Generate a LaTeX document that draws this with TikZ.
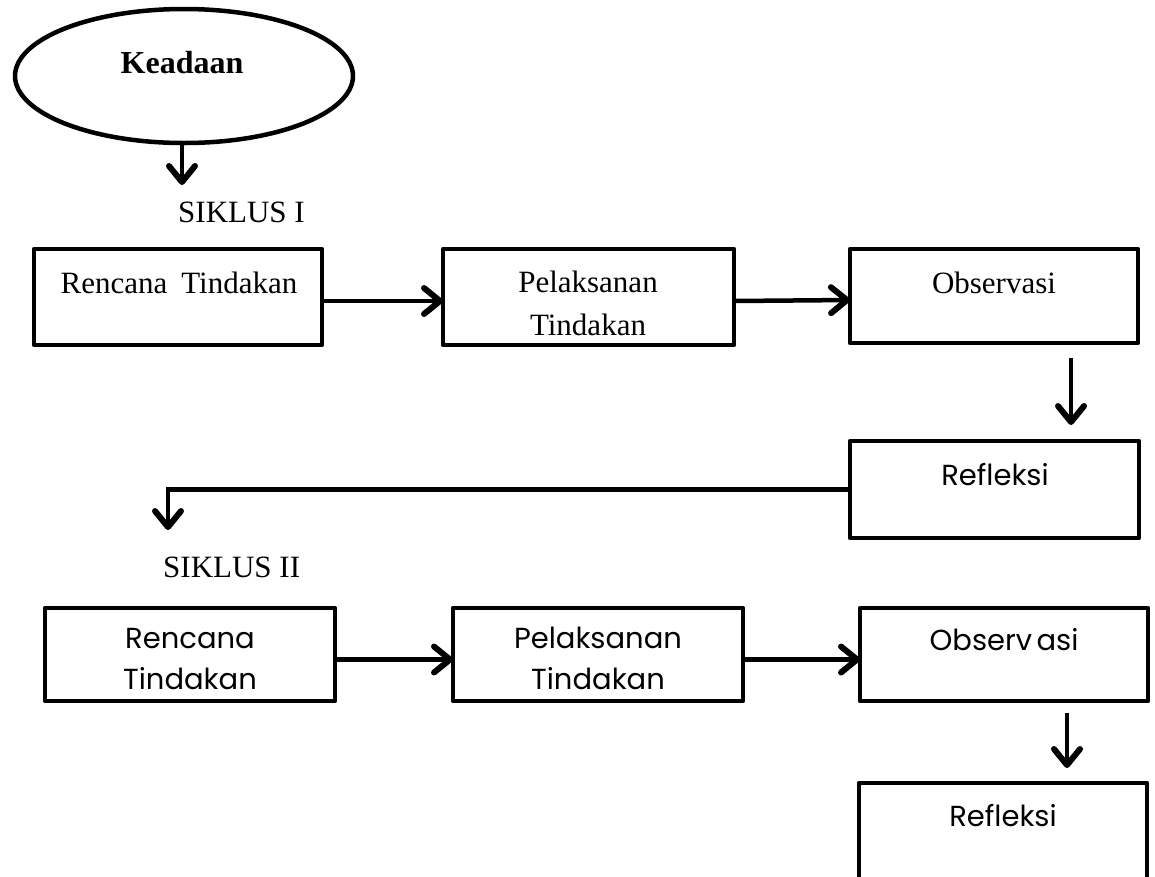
\documentclass[tikz,border=0pt]{standalone}
\usepackage{fontspec}
\setmainfont{Liberation Serif}
\newfontfamily\gothic{Poppins}
\usetikzlibrary{shapes.geometric,arrows.meta,calc}
\tikzset{
  box/.style={draw, line width=4.5pt, line join=round, inner sep=0pt, outer sep=0pt, anchor=north west},
  conn/.style={line width=4.5pt, -{Straight Barb[length=16pt,width=26pt,line width=6pt,round]}},
  serif/.style={font=\fontsize{31}{37}\selectfont, inner sep=0pt, anchor=base},
  sans/.style={font=\gothic\fontsize{29}{35}\selectfont, inner sep=0pt, anchor=base},
}
\begin{document}
\begin{tikzpicture}[x=1pt,y=-1pt]
\useasboundingbox (0,0) rectangle (1155,876);
\fill[white] (0,0) rectangle (1155,876);
\clip (0,0) rectangle (1155,876);

% start ellipse
\node[ellipse, draw, line width=4.5pt, minimum width=338pt, minimum height=134pt, inner sep=0pt] (k) at (184,76) {};
\node[serif, font=\fontsize{32}{38}\selectfont\bfseries] (kt) at (182,73) {Keadaan};
\coordinate (s1) at (182,185);
\draw[conn] (k.south -| s1) -- (s1);
\node[serif, anchor=base west] (c1) at (178,222) {SIKLUS I};

% cycle I
\node[box, minimum width=288pt, minimum height=96pt] (r1) at (34,249) {};
\node[box, minimum width=291pt, minimum height=96pt] (p1) at (443,249) {};
\node[box, minimum width=288pt, minimum height=94pt] (o1) at (850,249) {};
\node[box, minimum width=289pt, minimum height=97pt] (f1) at (850,441) {};

\node[serif] (r1t) at (179,293) {Rencana\hspace{0.45em}Tindakan};
\node[serif] (p1t) at (588,292) {Pelaksanan};
\node[serif] (p1u) at (588,335) {Tindakan};
\node[serif] (o1t) at (994,293) {Observasi};
\node[sans] (f1t) at (995,485) {Refleksi};

\draw[conn] ([yshift=-4pt]r1.east) -- ([yshift=-4pt]p1.west);
\draw[conn] ([yshift=-4pt]p1.east) -- ([yshift=-4pt]o1.west);
\coordinate (d1) at (1071,0);
\draw[conn, shorten <=15pt, shorten >=16pt] (o1.south -| d1) -- (f1.north -| d1);

\coordinate (s2) at (168,530);
\draw[conn] (f1.west) -| (s2);
\node[serif, anchor=base west] (c2) at (163,577) {SIKLUS II};

% cycle II
\node[box, minimum width=290pt, minimum height=93pt] (r2) at (45,608) {};
\node[box, minimum width=290pt, minimum height=93pt] (p2) at (453,608) {};
\node[box, minimum width=288pt, minimum height=93pt] (o2) at (860,608) {};
\node[box, minimum width=288pt, minimum height=130pt] (f2) at (859,783) {};

\node[sans] (r2t) at (190,648) {Rencana};
\node[sans] (r2u) at (190,689) {Tindakan};
\node[sans] (p2t) at (598,648) {Pelaksanan};
\node[sans] (p2u) at (598,689) {Tindakan};
\node[sans] (o2t) at (1004,650) {Observ\kern0.15em asi};
\node[sans] (f2t) at (1003,826) {Refleksi};

\draw[conn] ([yshift=-5pt]r2.east) -- ([yshift=-5pt]p2.west);
\draw[conn] ([yshift=-5pt]p2.east) -- ([yshift=-5pt]o2.west);
\coordinate (d2) at (1067,0);
\draw[conn, shorten <=12pt, shorten >=15pt] (o2.south -| d2) -- (f2.north -| d2);
\end{tikzpicture}
\end{document}
